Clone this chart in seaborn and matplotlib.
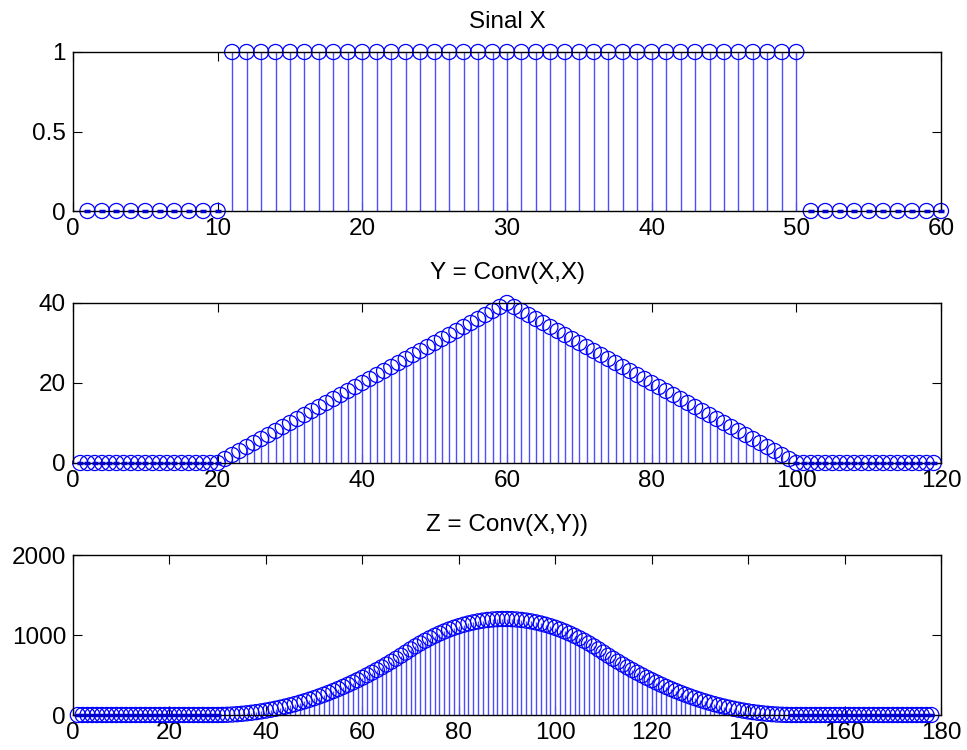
import numpy as np
import pandas as pd
import matplotlib
matplotlib.use("Agg")
import matplotlib.pyplot as plt
import seaborn as sns

# sinal X (amostras 1..60)
x_vals = [0] * 10 + [1] * 40 + [0] * 10

# Y = conv(X, X) (amostras 1..119)
y_vals = [0] * 20 + [
    1, 2, 3, 4, 5, 6, 7, 8, 9, 10, 11, 12, 13, 14, 15, 16, 17, 18, 19, 20,
    21, 22, 23, 24, 25, 26, 27, 28, 29, 30, 31, 32, 33, 34, 35, 36, 37, 38, 39, 40,
    39, 38, 37, 36, 35, 34, 33, 32, 31, 30, 29, 28, 27, 26, 25, 24, 23, 22, 21, 20,
    19, 18, 17, 16, 15, 14, 13, 12, 11, 10, 9, 8, 7, 6, 5, 4, 3, 2, 1,
] + [0] * 20

# Z = conv(X, Y) (amostras 1..178)
z_vals = [0] * 30 + [
    1, 3, 6, 10, 15, 21, 28, 36, 45, 55, 66, 78, 91, 105, 120, 136, 153, 171, 190, 210,
    231, 253, 276, 300, 325, 351, 378, 406, 435, 465, 496, 528, 561, 595, 630, 666, 703, 741, 780, 820,
    858, 894, 928, 960, 990, 1018, 1044, 1068, 1090, 1110, 1128, 1144, 1158, 1170, 1180, 1188, 1194, 1198, 1200,
    1200, 1198, 1194, 1188, 1180, 1170, 1158, 1144, 1128, 1110, 1090, 1068, 1044, 1018, 990, 960, 928, 894, 858,
    820, 780, 741, 703, 666, 630, 595, 561, 528, 496, 465, 435, 406, 378, 351, 325, 300, 276, 253, 231,
    210, 190, 171, 153, 136, 120, 105, 91, 78, 66, 55, 45, 36, 28, 21, 15, 10, 6, 3, 1, 0,
] + [0] * 29

titles = ['Sinal X', 'Y = Conv(X,X)', 'Z = Conv(X,Y))']
xlims = [60, 120, 180]
ylims = [1, 40, 2000]
xticks = [np.arange(0, 61, 10), np.arange(0, 121, 20), np.arange(0, 181, 20)]
yticks = [[0, 0.5, 1], [0, 20, 40], [0, 1000, 2000]]

sns.set_theme(style='white')
plt.rcParams['font.family'] = ['Liberation Sans', 'DejaVu Sans']

fig = plt.figure(figsize=(9.67, 7.5), dpi=100)
W, H = 967, 750
boxes = [(52, 211), (303, 463), (555, 715)]  # top, bottom in px
left, right = 73, 941

for i, vals in enumerate([x_vals, y_vals, z_vals]):
    top, bot = boxes[i]
    ax = fig.add_axes([left / W, 1 - bot / H, (right - left) / W, (bot - top) / H])
    df = pd.DataFrame({'n': np.arange(1, len(vals) + 1), 'v': vals})

    ax.vlines(df['n'], 0, df['v'], color='#4d4dff', lw=1.0, zorder=2)
    sns.scatterplot(data=df, x='n', y='v', ax=ax, marker='o', s=118,
                    facecolor='none', edgecolor='blue', linewidth=0.9,
                    zorder=3, clip_on=False, legend=False)
    # small blue baseline marks at the zero samples
    zeros = df[df['v'] == 0]
    ax.plot(zeros['n'], zeros['v'], linestyle='none', marker='_', ms=5,
            mew=2.5, color='#0000cc', zorder=5, clip_on=False)

    ax.set_xlim(0, xlims[i])
    ax.set_ylim(0, ylims[i])
    ax.set_xticks(xticks[i])
    ax.set_yticks(yticks[i])
    ax.set_yticklabels([f'{t:g}' for t in yticks[i]])
    ax.set_xlabel('')
    ax.set_ylabel('')
    ax.set_title(titles[i], fontsize=17.5, pad=17, color='black')
    ax.tick_params(direction='in', length=6.5, width=0.8, color='black',
                   top=True, right=True, bottom=True, left=True,
                   labelsize=17.5, labelcolor='black', pad=5)
    for sp in ax.spines.values():
        sp.set_color('black')
        sp.set_linewidth(1.0)
        sp.set_zorder(4)

fig.savefig('out.png', dpi=100)
